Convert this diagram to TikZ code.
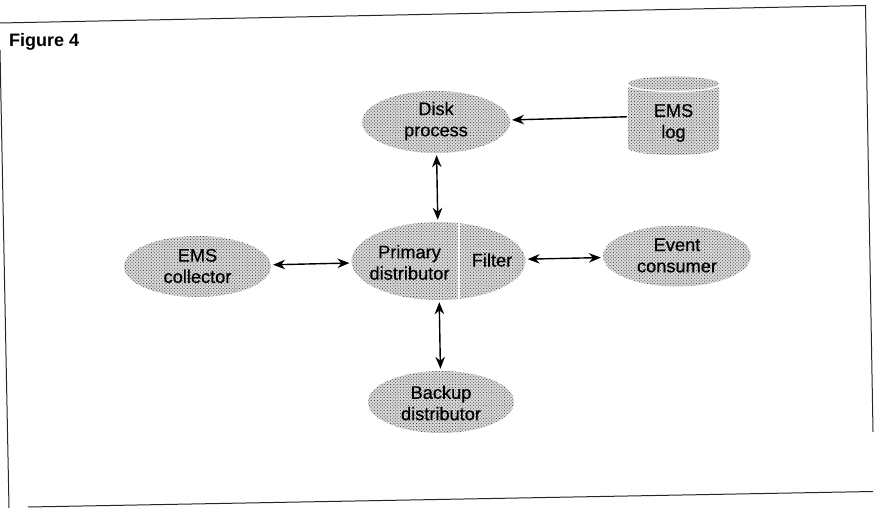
\documentclass[tikz,border=0pt]{standalone}
\usepackage{fontspec}
\setmainfont{Liberation Sans}
\newfontfamily\smearfont{Liberation Sans}[FakeBold=0.5]
\usetikzlibrary{arrows.meta,shapes.geometric,patterns.meta}
\definecolor{halftone}{gray}{0.86}
\tikzset{
  x=1pt,y=1pt,
  stipple/.style={fill=halftone,postaction={pattern={Dots[radius=0.62pt,distance=2.3pt,angle=45,xshift=0.3pt]},pattern color=black!75}},
  blob/.style={ellipse,stipple,inner sep=0pt},
  lbl/.style={inner sep=0pt,font=\smearfont\fontsize{18.2}{21.3}\selectfont,align=center,text=black},
  head/.style={Stealth[length=12pt,width=9.5pt]},
  link/.style={line width=1.4pt,black,{Stealth[length=12pt,width=9.5pt]}-{Stealth[length=12pt,width=9.5pt]},shorten >=2pt,shorten <=2pt},
  oneway/.style={line width=1.4pt,black,-{Stealth[length=12pt,width=9.5pt]},shorten >=2pt,shorten <=1pt},
  edge line/.style={line width=1pt,black!85}
}
\begin{document}
\begin{tikzpicture}
\useasboundingbox (0,0) rectangle (874,508);
% page frame
\coordinate (tl) at (0,485);
\coordinate (tr) at (865.5,502.5);
\coordinate (rb) at (873,76);
\coordinate (lt) at (0,458);
\coordinate (lb) at (9,0);
\coordinate (bl) at (28,1);
\coordinate (br) at (873,16.5);
\draw[edge line] (tl) -- (tr) -- (rb);
\draw[edge line] (lt) -- (lb);
\draw[edge line] (bl) -- (br);
\node[inner sep=0pt,anchor=base west,font=\bfseries\fontsize{18}{20}\selectfont] (title) at (9,461) {Figure 4};
% ellipses
\node[blob,minimum width=148pt,minimum height=62pt] (disk) at (436,386) {};
\node[blob,minimum width=174pt,minimum height=78pt] (primary) at (438.5,247) {};
\node[blob,minimum width=148pt,minimum height=61pt] (event) at (677,252) {};
\node[blob,minimum width=147pt,minimum height=61pt] (collector) at (197.5,241.5) {};
\node[blob,minimum width=146pt,minimum height=62pt] (backup) at (441,106) {};
% split of the primary ellipse
\coordinate (splittop) at (459,290);
\coordinate (splitbot) at (459,206);
\draw[white,line width=2.5pt] (splittop) -- (splitbot);
% log cylinder
\node[minimum width=91pt,minimum height=79pt,inner sep=0pt] (log) at (673.5,392.5) {};
\path[stipple] (628,424.5) arc[start angle=180,end angle=360,x radius=45.5,y radius=7] -- (719,360) arc[start angle=0,end angle=-180,x radius=45.5,y radius=7] -- cycle;
\path[stipple] (673.5,424.5) ellipse[x radius=45.5,y radius=7];
\draw[white,line width=1.3pt] (628,423.5) arc[start angle=180,end angle=360,x radius=45.5,y radius=7];
% labels
\node[lbl] (disktext) at (436,387) {Disk\\process};
\node[lbl] (primarytext) at (409.5,245.5) {Primary\\distributor};
\node[lbl] (filter) at (492,248) {Filter};
\node[lbl] (eventtext) at (677,252.5) {Event\\consumer};
\node[lbl] (collectortext) at (197.5,242) {EMS\\collector};
\node[lbl] (backuptext) at (441,105) {Backup\\distributor};
\node[lbl] (logtext) at (673.5,385) {EMS\\log};
% connectors
\draw[oneway] (log) -- (disk);
\draw[link] (disk) -- (primary);
\draw[link] (collector) -- (primary);
\draw[link] (primary) -- (event);
\draw[link] (primary) -- (backup);
\end{tikzpicture}
\end{document}
